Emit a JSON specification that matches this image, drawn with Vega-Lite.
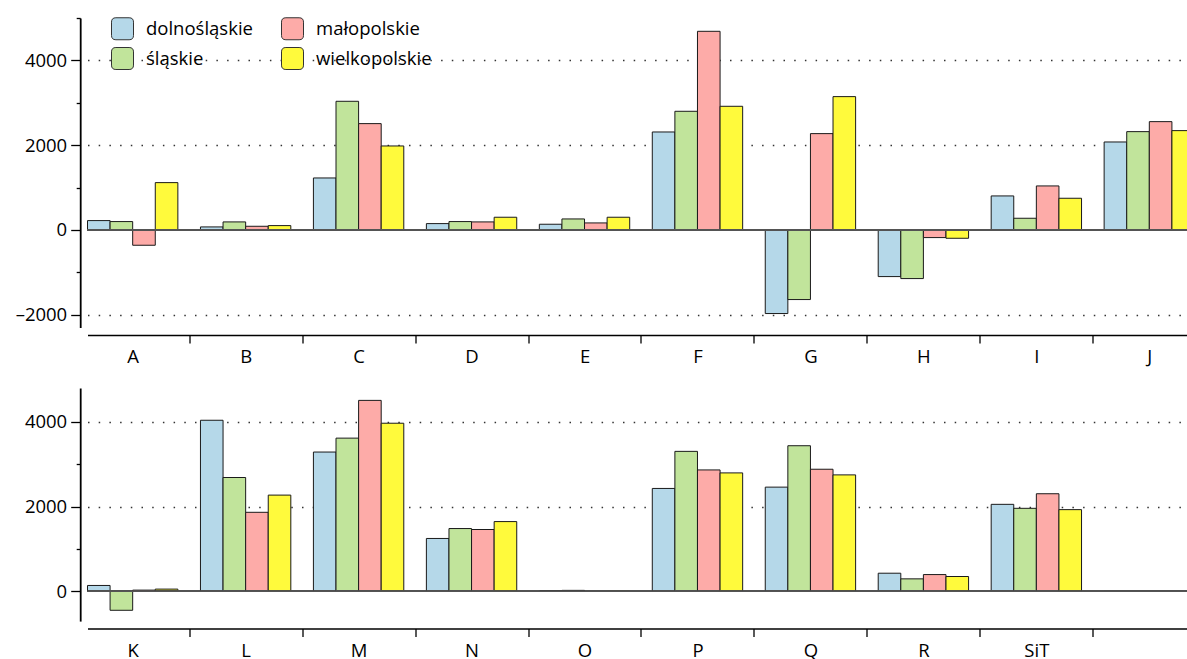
{
  "$schema": "https://vega.github.io/schema/vega-lite/v6.json",
  "padding": {"left": 14.5, "top": 17, "right": 0, "bottom": 0},
  "background": "white",
  "config": {
    "view": {"stroke": null},
    "font": "Open Sans",
    "axis": {"labelFont": "Open Sans", "labelColor": "#000", "domainColor": "#000", "tickColor": "#000", "title": null}
  },
  "datasets": {
    "top": [
      {"sekcja": "A", "woj": "dolnośląskie", "wartosc": 220},
      {"sekcja": "A", "woj": "śląskie", "wartosc": 197},
      {"sekcja": "A", "woj": "małopolskie", "wartosc": -362},
      {"sekcja": "A", "woj": "wielkopolskie", "wartosc": 1116},
      {"sekcja": "B", "woj": "dolnośląskie", "wartosc": 71},
      {"sekcja": "B", "woj": "śląskie", "wartosc": 189},
      {"sekcja": "B", "woj": "małopolskie", "wartosc": 86},
      {"sekcja": "B", "woj": "wielkopolskie", "wartosc": 102},
      {"sekcja": "C", "woj": "dolnośląskie", "wartosc": 1226},
      {"sekcja": "C", "woj": "śląskie", "wartosc": 3035},
      {"sekcja": "C", "woj": "małopolskie", "wartosc": 2508},
      {"sekcja": "C", "woj": "wielkopolskie", "wartosc": 1981},
      {"sekcja": "D", "woj": "dolnośląskie", "wartosc": 149},
      {"sekcja": "D", "woj": "śląskie", "wartosc": 197},
      {"sekcja": "D", "woj": "małopolskie", "wartosc": 189},
      {"sekcja": "D", "woj": "wielkopolskie", "wartosc": 299},
      {"sekcja": "E", "woj": "dolnośląskie", "wartosc": 134},
      {"sekcja": "E", "woj": "śląskie", "wartosc": 259},
      {"sekcja": "E", "woj": "małopolskie", "wartosc": 165},
      {"sekcja": "E", "woj": "wielkopolskie", "wartosc": 299},
      {"sekcja": "F", "woj": "dolnośląskie", "wartosc": 2311},
      {"sekcja": "F", "woj": "śląskie", "wartosc": 2799},
      {"sekcja": "F", "woj": "małopolskie", "wartosc": 4686},
      {"sekcja": "F", "woj": "wielkopolskie", "wartosc": 2917},
      {"sekcja": "G", "woj": "dolnośląskie", "wartosc": -1973},
      {"sekcja": "G", "woj": "śląskie", "wartosc": -1643},
      {"sekcja": "G", "woj": "małopolskie", "wartosc": 2272},
      {"sekcja": "G", "woj": "wielkopolskie", "wartosc": 3145},
      {"sekcja": "H", "woj": "dolnośląskie", "wartosc": -1101},
      {"sekcja": "H", "woj": "śląskie", "wartosc": -1148},
      {"sekcja": "H", "woj": "małopolskie", "wartosc": -181},
      {"sekcja": "H", "woj": "wielkopolskie", "wartosc": -197},
      {"sekcja": "I", "woj": "dolnośląskie", "wartosc": 802},
      {"sekcja": "I", "woj": "śląskie", "wartosc": 275},
      {"sekcja": "I", "woj": "małopolskie", "wartosc": 1038},
      {"sekcja": "I", "woj": "wielkopolskie", "wartosc": 747},
      {"sekcja": "J", "woj": "dolnośląskie", "wartosc": 2075},
      {"sekcja": "J", "woj": "śląskie", "wartosc": 2319},
      {"sekcja": "J", "woj": "małopolskie", "wartosc": 2555},
      {"sekcja": "J", "woj": "wielkopolskie", "wartosc": 2343}
    ],
    "bottom": [
      {"sekcja": "K", "woj": "dolnośląskie", "wartosc": 141},
      {"sekcja": "K", "woj": "śląskie", "wartosc": -445},
      {"sekcja": "K", "woj": "małopolskie", "wartosc": 31},
      {"sekcja": "K", "woj": "wielkopolskie", "wartosc": 55},
      {"sekcja": "L", "woj": "dolnośląskie", "wartosc": 4039},
      {"sekcja": "L", "woj": "śląskie", "wartosc": 2688},
      {"sekcja": "L", "woj": "małopolskie", "wartosc": 1867},
      {"sekcja": "L", "woj": "wielkopolskie", "wartosc": 2273},
      {"sekcja": "M", "woj": "dolnośląskie", "wartosc": 3289},
      {"sekcja": "M", "woj": "śląskie", "wartosc": 3617},
      {"sekcja": "M", "woj": "małopolskie", "wartosc": 4508},
      {"sekcja": "M", "woj": "wielkopolskie", "wartosc": 3969},
      {"sekcja": "N", "woj": "dolnośląskie", "wartosc": 1250},
      {"sekcja": "N", "woj": "śląskie", "wartosc": 1484},
      {"sekcja": "N", "woj": "małopolskie", "wartosc": 1461},
      {"sekcja": "N", "woj": "wielkopolskie", "wartosc": 1648},
      {"sekcja": "O", "woj": "dolnośląskie", "wartosc": 20},
      {"sekcja": "O", "woj": "śląskie", "wartosc": 25},
      {"sekcja": "O", "woj": "małopolskie", "wartosc": 5},
      {"sekcja": "O", "woj": "wielkopolskie", "wartosc": 15},
      {"sekcja": "P", "woj": "dolnośląskie", "wartosc": 2430},
      {"sekcja": "P", "woj": "śląskie", "wartosc": 3305},
      {"sekcja": "P", "woj": "małopolskie", "wartosc": 2867},
      {"sekcja": "P", "woj": "wielkopolskie", "wartosc": 2797},
      {"sekcja": "Q", "woj": "dolnośląskie", "wartosc": 2461},
      {"sekcja": "Q", "woj": "śląskie", "wartosc": 3438},
      {"sekcja": "Q", "woj": "małopolskie", "wartosc": 2883},
      {"sekcja": "Q", "woj": "wielkopolskie", "wartosc": 2750},
      {"sekcja": "R", "woj": "dolnośląskie", "wartosc": 430},
      {"sekcja": "R", "woj": "śląskie", "wartosc": 297},
      {"sekcja": "R", "woj": "małopolskie", "wartosc": 398},
      {"sekcja": "R", "woj": "wielkopolskie", "wartosc": 352},
      {"sekcja": "SiT", "woj": "dolnośląskie", "wartosc": 2055},
      {"sekcja": "SiT", "woj": "śląskie", "wartosc": 1961},
      {"sekcja": "SiT", "woj": "małopolskie", "wartosc": 2305},
      {"sekcja": "SiT", "woj": "wielkopolskie", "wartosc": 1930},
      {"sekcja": " ", "woj": "dolnośląskie", "wartosc": 0},
      {"sekcja": " ", "woj": "śląskie", "wartosc": 0},
      {"sekcja": " ", "woj": "małopolskie", "wartosc": 0},
      {"sekcja": " ", "woj": "wielkopolskie", "wartosc": 0}
    ]
  },
  "spacing": 21,
  "resolve": {"legend": {"color": "independent"}},
  "vconcat": [
    {
      "width": 1107,
      "height": 309.4,
      "data": {"name": "top"},
      "layer": [
        {
          "mark": {"type": "bar", "stroke": "#1a1a1a", "strokeWidth": 1},
          "encoding": {
            "x": {
              "field": "sekcja", "type": "nominal",
              "scale": {"domain": ["A","B","C","D","E","F","G","H","I","J"], "paddingInner": 0.2, "paddingOuter": 0},
              "axis": {"orient": "bottom", "offset": 7.5, "bandPosition": 0, "tickOffset": -11.3, "labelOffset": 11.3, "tickSize": 8, "tickWidth": 1.3, "domainWidth": 1.5, "labelFontSize": 18.5, "labelPadding": 5, "labelAngle": 0, "tickOpacity": {"condition": {"test": "datum.value === 'A'", "value": 0}, "value": 1}}
            },
            "xOffset": {"field": "woj", "type": "nominal", "scale": {"domain": ["dolnośląskie","śląskie","małopolskie","wielkopolskie"], "paddingInner": 0, "paddingOuter": 0}},
            "y": {
              "field": "wartosc", "type": "quantitative",
              "scale": {"domain": [-2300, 5000], "nice": false, "zero": false},
              "axis": {"orient": "left", "offset": 7.3, "format": "d", "values": [-2000,-1000,0,1000,2000,3000,4000,5000], "tickSize": {"condition": {"test": "datum.value % 2000 === 0", "value": 9.5}, "value": 4}, "tickWidth": 1.3, "domainWidth": 1.8, "labelFontSize": 18.5, "labelPadding": 4, "labelExpr": "datum.value % 2000 === 0 ? (datum.value < 0 ? '\u2013' + format(-datum.value, 'd') : format(datum.value, 'd')) : ''", "grid": true, "gridDash": [1.5, 9.2], "gridColor": "#333", "gridWidth": 1.3, "gridOpacity": {"condition": {"test": "datum.value % 2000 === 0 && datum.value !== 0", "value": 1}, "value": 0}}
            },
            "color": {
              "field": "woj", "type": "nominal",
              "scale": {"domain": ["dolnośląskie","śląskie","małopolskie","wielkopolskie"], "range": ["#b5d8e9","#c1e49b","#fdaba8","#fffa3c"]},
              "legend": {"orient": "none", "legendX": 23.5, "legendY": -1, "columns": 2, "title": null, "padding": 0, "symbolType": "M -1 -0.6 Q -1 -1 -0.6 -1 L 0.6 -1 Q 1 -1 1 -0.6 L 1 0.6 Q 1 1 0.6 1 L -0.6 1 Q -1 1 -1 0.6 Z", "symbolSize": 484, "symbolStrokeColor": "#333", "symbolStrokeWidth": 1, "symbolOpacity": 1, "labelFontSize": 18.5, "labelFont": "Open Sans", "labelColor": "#000", "labelOffset": 12, "rowPadding": 3, "columnPadding": 26}
            }
          }
        },
        {"mark": {"type": "rule", "color": "#555", "strokeWidth": 1}, "encoding": {"y": {"datum": 0}}}
      ]
    },
    {
      "width": 1107,
      "height": 233.1,
      "data": {"name": "bottom"},
      "layer": [
        {
          "mark": {"type": "bar", "stroke": "#1a1a1a", "strokeWidth": 1},
          "encoding": {
            "x": {
              "field": "sekcja", "type": "nominal",
              "scale": {"domain": ["K","L","M","N","O","P","Q","R","SiT"," "], "paddingInner": 0.2, "paddingOuter": 0},
              "axis": {"orient": "bottom", "offset": 7.5, "bandPosition": 0, "tickOffset": -11.3, "labelOffset": 11.3, "tickSize": 8, "tickWidth": 1.3, "domainWidth": 1.5, "labelFontSize": 18.5, "labelPadding": 5, "labelAngle": 0, "tickOpacity": {"condition": {"test": "datum.value === 'K'", "value": 0}, "value": 1}}
            },
            "xOffset": {"field": "woj", "type": "nominal", "scale": {"domain": ["dolnośląskie","śląskie","małopolskie","wielkopolskie"], "paddingInner": 0, "paddingOuter": 0}},
            "y": {
              "field": "wartosc", "type": "quantitative",
              "scale": {"domain": [-700, 4800], "nice": false, "zero": false},
              "axis": {"orient": "left", "offset": 7.3, "format": "d", "values": [0,1000,2000,3000,4000], "tickSize": {"condition": {"test": "datum.value % 2000 === 0", "value": 9.5}, "value": 4}, "tickWidth": 1.3, "domainWidth": 1.8, "labelFontSize": 18.5, "labelPadding": 4, "labelExpr": "datum.value % 2000 === 0 ? format(datum.value, 'd') : ''", "grid": true, "gridDash": [1.5, 9.2], "gridColor": "#333", "gridWidth": 1.3, "gridOpacity": {"condition": {"test": "datum.value % 2000 === 0 && datum.value !== 0", "value": 1}, "value": 0}}
            },
            "color": {
              "field": "woj", "type": "nominal",
              "scale": {"domain": ["dolnośląskie","śląskie","małopolskie","wielkopolskie"], "range": ["#b5d8e9","#c1e49b","#fdaba8","#fffa3c"]},
              "legend": null
            }
          }
        },
        {"mark": {"type": "rule", "color": "#555", "strokeWidth": 1}, "encoding": {"y": {"datum": 0}}}
      ]
    }
  ]
}
